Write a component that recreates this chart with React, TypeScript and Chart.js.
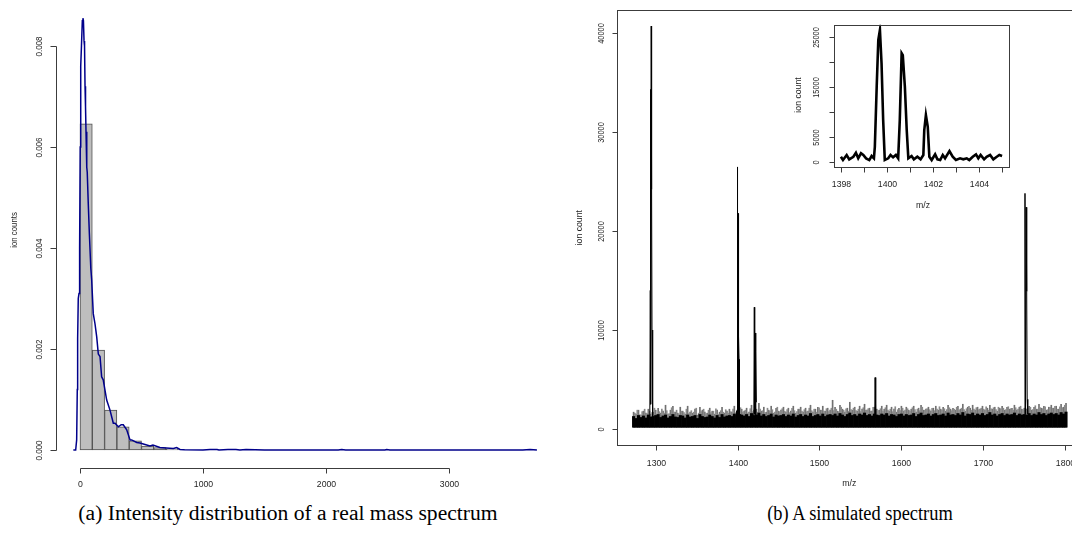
import React, { useEffect, useRef } from "react";
import { Chart, registerables } from "chart.js";

Chart.register(...registerables);

// ---------------- Panel (a): histogram + density ----------------
const histBreaks = [0, 100, 200, 300, 400, 500, 600, 700, 800];
const histDensity = [0.00646, 0.00198, 0.00079, 0.00046, 0.00018, 0.00008, 0.00005, 0.00002];

const densX = [-54, -35, -27, -22, -19, -14, -8, -3, 2, 6, 12, 19, 24, 28, 33, 37, 41, 45, 49, 55, 59, 67, 76, 88, 95, 108, 122, 136, 149, 163, 176, 189, 217, 244, 271, 285, 312, 335, 352, 380, 407, 420, 461, 488, 515, 569, 593, 650, 700, 759, 786, 813, 850, 1000, 1057, 1085, 1114, 1130, 1203, 1268, 1300, 1350, 1500, 2100, 2128, 2160, 2480, 2493, 2520, 3600, 3659, 3715];
const densY = [0, 0, 0.0002, 0.0012, 0.0022, 0.003, 0.0031, 0.004, 0.006, 0.0076, 0.008, 0.0085, 0.00855, 0.0085, 0.0081, 0.008, 0.0072, 0.0068, 0.0063, 0.0056, 0.0055, 0.0049, 0.0043, 0.0036, 0.00337, 0.0027, 0.0025, 0.00224, 0.0019, 0.00185, 0.00145, 0.00139, 0.00099, 0.00079, 0.00053, 0.00053, 0.00046, 0.0005, 0.0005, 0.0004, 0.0002, 0.0002, 0.00015, 0.00014, 0.00012, 0.00008, 0.0001, 0.00005, 0.00004, 0.00003, 0.00005, 0.00001, 0.000005, 0, 0.00001, 0.00001, 0.00001, 0, 0.00001, 0.00001, 0, 0.00001, 0, 0, 0.00001, 0, 0, 0.00001, 0, 0, 0.00001, 0];

const histXTicks = [0, 1000, 2000, 3000];
const histXLabels = ["0", "1000", "2000", "3000"];
const histYTicks = [0, 0.002, 0.004, 0.006, 0.008];
const histYLabels = ["0.000", "0.002", "0.004", "0.006", "0.008"];

// ---------------- Panel (b): simulated spectrum ----------------
const NOISE_START = 1273;
const NOISE_STEP = 3;
const NOISE_FLOOR = 150;
const noiseSpike = [
  1700, 1500, 1900, 1400, 1800, 1600, 2000, 1500, 1700, 1900,
  2100, 1600, 1800, 2400, 1500, 1900, 2300, 1700, 1600, 2200,
  1800, 1500, 2300, 1700, 1600, 2000, 1400, 2200, 1900, 1700,
  1600, 2100, 1800, 1500, 1900, 1700, 2200, 1600, 1800, 2000,
  1700, 2300, 1900, 1600, 2000, 1800, 2100, 1700, 2400, 1900,
  2000, 2600, 1800, 2200, 1700, 1900, 2300, 1600, 2100, 1800,
  1900, 2200, 1700, 2100, 1800, 2300, 1600, 2000, 2200, 1700,
  2100, 1800, 2400, 1700, 2000, 2200, 1900, 2300, 1800, 2100,
  1900, 2900, 2200, 1800, 2400, 2000, 1700, 2100, 2700, 1900,
  2200, 1800, 2300, 2000, 2500, 1900, 2100, 1800, 2200, 2000,
  1900, 2300, 2000, 2400, 1800, 2200, 2000, 1700, 2100, 2300,
  1800, 2200, 1900, 2000, 2300, 1700, 2100, 2400, 1900, 2000,
  2200, 1800, 2100, 2300, 1900, 2000, 2200, 1800, 2400, 2000,
  2100, 1900, 2300, 2000, 2500, 1800, 2200, 2100, 2400, 1900,
  2200, 2000, 2300, 1900, 2100, 2400, 2000, 2200, 1800, 2100,
  2300, 1900, 2200, 2000, 2100, 2400, 1900, 2200, 2000, 2100,
  2000, 2300, 1900, 2200, 2000, 2500, 2100, 2300, 1900, 2200,
  2400, 2100, 2300, 2000, 2500, 2200, 2600,
];
// second set of spikes, sampled half a step later
const noiseSpike2 = [
  1600, 1900, 1450, 1750, 2000, 1550, 1800, 1650, 2100, 1500,
  1750, 2000, 1600, 1850, 1550, 2150, 1700, 1900, 1500, 1800,
  1650, 2000, 1550, 1850, 1700, 2100, 1600, 1750, 2000, 1550,
  1900, 1650, 1800, 2050, 1500, 1850, 1700, 1950, 1600, 1750,
  2000, 1650, 1850, 2150, 1700, 1900, 1600, 2050, 1750, 1850,
  1700, 2000, 1850, 1650, 2100, 1800, 1950, 1700, 2200, 1750,
  2050, 1800, 1950, 1650, 2100, 1850, 1750, 2000, 1800, 1950,
  1750, 2100, 1850, 2000, 1700, 2150, 1900, 1800, 2050, 1750,
  2100, 1850, 2000, 1750, 2200, 1900, 2050, 1800, 1950, 2100,
  1850, 2000, 1750, 2150, 1900, 2050, 1800, 2200, 1950, 1850,
  2050, 1800, 2150, 1900, 2000, 1750, 2250, 1950, 1850, 2100,
  1900, 2050, 1800, 2150, 1950, 2000, 1850, 2200, 1900, 2050,
  1950, 2100, 1850, 2000, 2250, 1900, 2050, 1950, 2150, 1850,
  2000, 2200, 1900, 2100, 1950, 2050, 2300, 1900, 2000, 2150,
  1950, 2100, 2000, 2250, 1900, 2050, 2150, 1950, 2200, 2000,
  2100, 1950, 2250, 2050, 1900, 2150, 2000, 2300, 1950, 2100,
  2050, 2200, 1950, 2350, 2000, 2150, 2050, 2250, 1950, 2200,
  2100, 2300, 2000, 2250, 2150, 2400,
];
const noiseCore = [
  1300, 1100, 1400, 1200, 1350, 1150, 1450, 1250, 1300, 1400,
  1500, 1200, 1350, 1450, 1150, 1300, 1500, 1250, 1200, 1400,
  1350, 1150, 1450, 1250, 1300, 1400, 1100, 1500, 1300, 1200,
  1250, 1450, 1300, 1150, 1400, 1200, 1500, 1250, 1350, 1400,
  1300, 1550, 1400, 1250, 1450, 1350, 1500, 1300, 1600, 1400,
  1450, 1650, 1350, 1500, 1300, 1400, 1550, 1250, 1450, 1350,
  1400, 1500, 1300, 1450, 1350, 1550, 1250, 1400, 1500, 1300,
  1450, 1350, 1600, 1300, 1400, 1500, 1350, 1550, 1300, 1450,
  1500, 1400, 1550, 1350, 1600, 1450, 1300, 1500, 1650, 1400,
  1500, 1350, 1550, 1450, 1650, 1400, 1500, 1350, 1550, 1450,
  1400, 1550, 1450, 1600, 1350, 1500, 1450, 1300, 1500, 1550,
  1350, 1500, 1400, 1450, 1600, 1300, 1500, 1650, 1400, 1450,
  1550, 1350, 1500, 1600, 1400, 1450, 1550, 1350, 1650, 1450,
  1500, 1400, 1600, 1450, 1700, 1350, 1550, 1500, 1650, 1400,
  1550, 1450, 1600, 1400, 1500, 1700, 1450, 1550, 1350, 1500,
  1600, 1400, 1550, 1450, 1500, 1650, 1400, 1550, 1450, 1500,
  1450, 1600, 1400, 1550, 1450, 1700, 1500, 1600, 1400, 1550,
  1650, 1500, 1600, 1450, 1700, 1550, 1750,
];

const peak1Mz = [1292.8, 1293.4, 1293.7, 1294.0, 1294.5, 1295.0, 1295.5, 1296.0, 1296.6];
const peak1Int = [1000, 14000, 34300, 2500, 40700, 24200, 10000, 3000, 900];
const peak3Mz = [1419.8, 1420.4, 1420.9, 1421.4, 1421.9, 1422.4, 1422.9];
const peak3Int = [1200, 12300, 1500, 9700, 1300, 7800, 2700];
const peak4Mz = [1567.4, 1567.9, 1568.4, 1568.9];
const peak4Int = [1000, 5200, 3900, 1200];
const peak5Mz = [1750.2, 1750.9, 1751.6, 1752.3, 1753.0, 1753.6, 1754.3];
const peak5Int = [1000, 23800, 1500, 22400, 13900, 3000, 1500];

const specXTicks = [1300, 1400, 1500, 1600, 1700, 1800];
const specXLabels = ["1300", "1400", "1500", "1600", "1700", "1800"];
const specYTicks = [0, 10000, 20000, 30000, 40000];
const specYLabels = ["0", "10000", "20000", "30000", "40000"];

// ---------------- Inset: zoom on 1398-1405 ----------------
const insetMz = [1398.01, 1398.1, 1398.26, 1398.37, 1398.55, 1398.66, 1398.76, 1398.88, 1398.98, 1399.1, 1399.24, 1399.34, 1399.44, 1399.48, 1399.56, 1399.63, 1399.7, 1399.77, 1399.84, 1399.91, 1400.06, 1400.16, 1400.27, 1400.39, 1400.49, 1400.56, 1400.64, 1400.69, 1400.78, 1400.86, 1400.93, 1401.07, 1401.17, 1401.32, 1401.46, 1401.58, 1401.62, 1401.69, 1401.77, 1401.84, 1401.94, 1402.09, 1402.19, 1402.31, 1402.42, 1402.52, 1402.71, 1402.85, 1402.99, 1403.17, 1403.31, 1403.46, 1403.57, 1403.72, 1403.86, 1403.96, 1404.06, 1404.21, 1404.32, 1404.47, 1404.61, 1404.76, 1404.87, 1404.99];
const insetInt = [1000, 340, 1350, 480, 1000, 1800, 680, 1700, 1350, 680, 340, 1150, 680, 3000, 15070, 24460, 26470, 19780, 8380, 340, 680, 1350, 880, 1350, 680, 8380, 21790, 21400, 15070, 6370, 680, 1150, 480, 1000, 480, 1350, 6370, 9380, 7030, 1000, 340, 1480, 480, 340, 1350, 680, 2150, 1000, 340, 680, 480, 680, 340, 1000, 1480, 680, 1350, 480, 1000, 1350, 480, 1000, 1350, 1150];

const insetXTicks = [1398, 1399, 1400, 1401, 1402, 1403, 1404, 1405];
const insetXLabels = ["1398", "", "1400", "", "1402", "", "1404", ""];
const insetYTicks = [0, 5000, 10000, 15000, 20000, 25000];
const insetYLabels = ["0", "5000", "", "15000", "", "25000"];

// ---------------- drawing helpers ----------------
const LINE = "#3c3c3c";
const TEXT = "#1e1e1e";
const FONT = '"Liberation Sans", Arial, sans-serif';

type TextSpec = { text: string; x: number; y: number; rotate?: boolean; size?: number; sy?: number };
type AxisSpec = {
  axis: "x" | "y";
  ticks: number[];
  labels: string[];
  labelPos: number;
  tickLen: number;
  sy?: number;
};

function drawText(ctx: CanvasRenderingContext2D, t: TextSpec) {
  ctx.save();
  ctx.translate(t.x, t.y);
  ctx.scale(1, t.sy ?? 1);
  if (t.rotate) ctx.rotate(-Math.PI / 2);
  ctx.font = `${t.size ?? 8.7}px ${FONT}`;
  ctx.textAlign = "center";
  ctx.textBaseline = "middle";
  ctx.fillStyle = TEXT;
  ctx.fillText(t.text, 0, 0);
  ctx.restore();
}

function rPlugin(id: string, offX: number, offY: number, axes: AxisSpec[], texts: TextSpec[], box: boolean) {
  return {
    id,
    afterDraw(chart: any) {
      const ctx: CanvasRenderingContext2D = chart.ctx;
      const a = chart.chartArea;
      ctx.save();
      ctx.strokeStyle = LINE;
      ctx.lineWidth = 1;
      if (box) {
        ctx.strokeRect(Math.round(a.left) + 0.5, Math.round(a.top) + 0.5, Math.round(a.right - a.left), Math.round(a.bottom - a.top));
      }
      for (const ax of axes) {
        const sc = chart.scales[ax.axis];
        const px = ax.ticks.map((v) => Math.round(sc.getPixelForValue(v)) + 0.5);
        ctx.beginPath();
        if (ax.axis === "x") {
          const y = Math.round(a.bottom) + 0.5;
          ctx.moveTo(px[0], y);
          ctx.lineTo(px[px.length - 1], y);
          px.forEach((p) => {
            ctx.moveTo(p, y);
            ctx.lineTo(p, y + ax.tickLen);
          });
          ctx.stroke();
          px.forEach((p, i) => {
            if (ax.labels[i]) drawText(ctx, { text: ax.labels[i], x: p, y: ax.labelPos - offY, sy: ax.sy });
          });
        } else {
          const x = Math.round(a.left) + 0.5;
          ctx.moveTo(x, px[0]);
          ctx.lineTo(x, px[px.length - 1]);
          px.forEach((p) => {
            ctx.moveTo(x, p);
            ctx.lineTo(x - ax.tickLen, p);
          });
          ctx.stroke();
          px.forEach((p, i) => {
            if (ax.labels[i]) drawText(ctx, { text: ax.labels[i], x: ax.labelPos - offX, y: p, rotate: true, sy: ax.sy });
          });
        }
      }
      for (const t of texts) drawText(ctx, { ...t, x: t.x - offX, y: t.y - offY });
      ctx.restore();
    },
  };
}

function hiddenLinear(min: number, max: number) {
  return { type: "linear", min, max, display: false, offset: false, grid: { display: false } };
}

const baseOptions = (padding: any, xs: any, ys: any) => ({
  responsive: false,
  maintainAspectRatio: false,
  animation: false,
  devicePixelRatio: 1,
  layout: { padding },
  plugins: { legend: { display: false }, tooltip: { enabled: false }, title: { display: false } },
  events: [],
  scales: { x: xs, y: ys },
});

function useChart(ref: React.RefObject<HTMLCanvasElement>, build: () => any) {
  useEffect(() => {
    if (!ref.current) return;
    const chart = new Chart(ref.current, build());
    return () => chart.destroy();
  }, []);
}

const pts = (xs: number[], ys: number[]) => xs.map((x, i) => ({ x, y: ys[i] }));

// ---------------- components ----------------
function HistogramPanel() {
  const ref = useRef<HTMLCanvasElement>(null);
  useChart(ref, () => {
    const centers = histDensity.map((_, i) => (histBreaks[i] + histBreaks[i + 1]) / 2);
    return {
      type: "bar",
      data: {
        datasets: [
          {
            type: "line",
            data: pts(densX, densY),
            borderColor: "#00008B",
            borderWidth: 1.5,
            pointRadius: 0,
            tension: 0,
            order: 0,
          },
          {
            type: "bar",
            data: pts(centers, histDensity),
            backgroundColor: "#bebebe",
            borderColor: "#505050",
            borderWidth: 1,
            borderSkipped: false,
            barPercentage: 1,
            categoryPercentage: 1,
            grouped: false,
            order: 1,
          },
        ],
      },
      options: baseOptions(
        { left: 56, top: 2, right: 5, bottom: 32 },
        hiddenLinear(-195, 3862),
        hiddenLinear(-0.000356, 0.00887)
      ),
      plugins: [
        rPlugin(
          "axesA",
          0,
          0,
          [
            { axis: "x", ticks: histXTicks, labels: histXLabels, labelPos: 485, tickLen: 5 },
            { axis: "y", ticks: histYTicks, labels: histYLabels, labelPos: 40, tickLen: 6, sy: 0.92 },
          ],
          [{ text: "ion counts", x: 15, y: 230, rotate: true, sy: 0.9 }],
          false
        ),
      ],
    };
  });
  return <canvas ref={ref} width={560} height={500} style={{ position: "absolute", left: 0, top: 0 }} />;
}

function SpectrumPanel() {
  const ref = useRef<HTMLCanvasElement>(null);
  useChart(ref, () => {
    const noiseMz = noiseSpike.map((_, i) => NOISE_START + i * NOISE_STEP);
    const noiseMz2 = noiseSpike2.map((_, i) => NOISE_START + NOISE_STEP / 2 + i * NOISE_STEP);
    const peakLine = (xs: number[], ys: number[]) => ({
      type: "line",
      data: pts(xs, ys),
      borderColor: "#000",
      borderWidth: 1,
      pointRadius: 0,
      tension: 0,
      order: 0,
    });
    return {
      type: "bar",
      data: {
        datasets: [
          {
            type: "bar",
            data: noiseMz.map((x, i) => ({ x, y: [NOISE_FLOOR, noiseSpike[i]] })),
            backgroundColor: "#707070",
            barThickness: 1,
            grouped: false,
            order: 4,
          },
          {
            type: "bar",
            data: noiseMz2.map((x, i) => ({ x, y: [NOISE_FLOOR, noiseSpike2[i]] })),
            backgroundColor: "#8a8a8a",
            barThickness: 1,
            grouped: false,
            order: 3,
          },
          {
            type: "bar",
            data: noiseMz.map((x, i) => ({ x, y: [NOISE_FLOOR, noiseCore[i]] })),
            backgroundColor: "#000",
            barPercentage: 2.5,
            categoryPercentage: 1,
            grouped: false,
            order: 2,
          },
          peakLine(peak1Mz, peak1Int),
          peakLine(insetMz, insetInt),
          peakLine(peak3Mz, peak3Int),
          peakLine(peak4Mz, peak4Int),
          peakLine(peak5Mz, peak5Int),
        ],
      },
      options: baseOptions(
        { left: 57, top: 10, right: 14, bottom: 55 },
        hiddenLinear(1252.75, 1825.4),
        hiddenLinear(-1616, 42323)
      ),
      plugins: [
        rPlugin(
          "axesB",
          560,
          0,
          [
            { axis: "x", ticks: specXTicks, labels: specXLabels, labelPos: 463.3, tickLen: 5 },
            { axis: "y", ticks: specYTicks, labels: specYLabels, labelPos: 601.7, tickLen: 5, sy: 0.85 },
          ],
          [
            { text: "m/z", x: 849.3, y: 484 },
            { text: "ion count", x: 580, y: 227.7, rotate: true },
          ],
          true
        ),
      ],
    };
  });
  return <canvas ref={ref} width={540} height={500} style={{ position: "absolute", left: 560, top: 0 }} />;
}

function InsetPanel() {
  const ref = useRef<HTMLCanvasElement>(null);
  useChart(ref, () => ({
    type: "line",
    data: {
      datasets: [
        {
          data: pts(insetMz, insetInt),
          borderColor: "#000",
          borderWidth: 2.6,
          pointRadius: 0,
          tension: 0,
        },
      ],
    },
    options: baseOptions(
      { left: 54.2, top: 14.7, right: 11.2, bottom: 53 },
      hiddenLinear(1397.72, 1405.28),
      hiddenLinear(-1059, 27529)
    ),
    plugins: [
      rPlugin(
        "axesInset",
        780,
        10,
        [
          { axis: "x", ticks: insetXTicks, labels: insetXLabels, labelPos: 184.3, tickLen: 5 },
          { axis: "y", ticks: insetYTicks, labels: insetYLabels, labelPos: 816.7, tickLen: 5, sy: 0.85 },
        ],
        [
          { text: "m/z", x: 923, y: 206 },
          { text: "ion count", x: 798.3, y: 95, rotate: true },
        ],
        true
      ),
    ],
  }));
  return <canvas ref={ref} width={240} height={210} style={{ position: "absolute", left: 780, top: 10 }} />;
}

const captionStyle: React.CSSProperties = {
  position: "absolute",
  top: 500,
  fontFamily: '"Liberation Serif", "DejaVu Serif", serif',
  fontSize: 20,
  lineHeight: "26px",
  color: "#000",
  whiteSpace: "nowrap",
  transformOrigin: "50% 50%",
};

export default function App() {
  return (
    <div
      style={{
        position: "absolute",
        left: 0,
        top: 0,
        width: 1072,
        height: 545,
        overflow: "hidden",
        background: "#fff",
      }}
    >
      <HistogramPanel />
      <SpectrumPanel />
      <InsetPanel />
      <div style={{ ...captionStyle, left: 287.5, transform: "translateX(-50%) scaleX(1.08)" }}>
        (a) Intensity distribution of a real mass spectrum
      </div>
      <div style={{ ...captionStyle, left: 860, transform: "translateX(-50%) scaleX(0.92)" }}>
        (b) A simulated spectrum
      </div>
    </div>
  );
}
